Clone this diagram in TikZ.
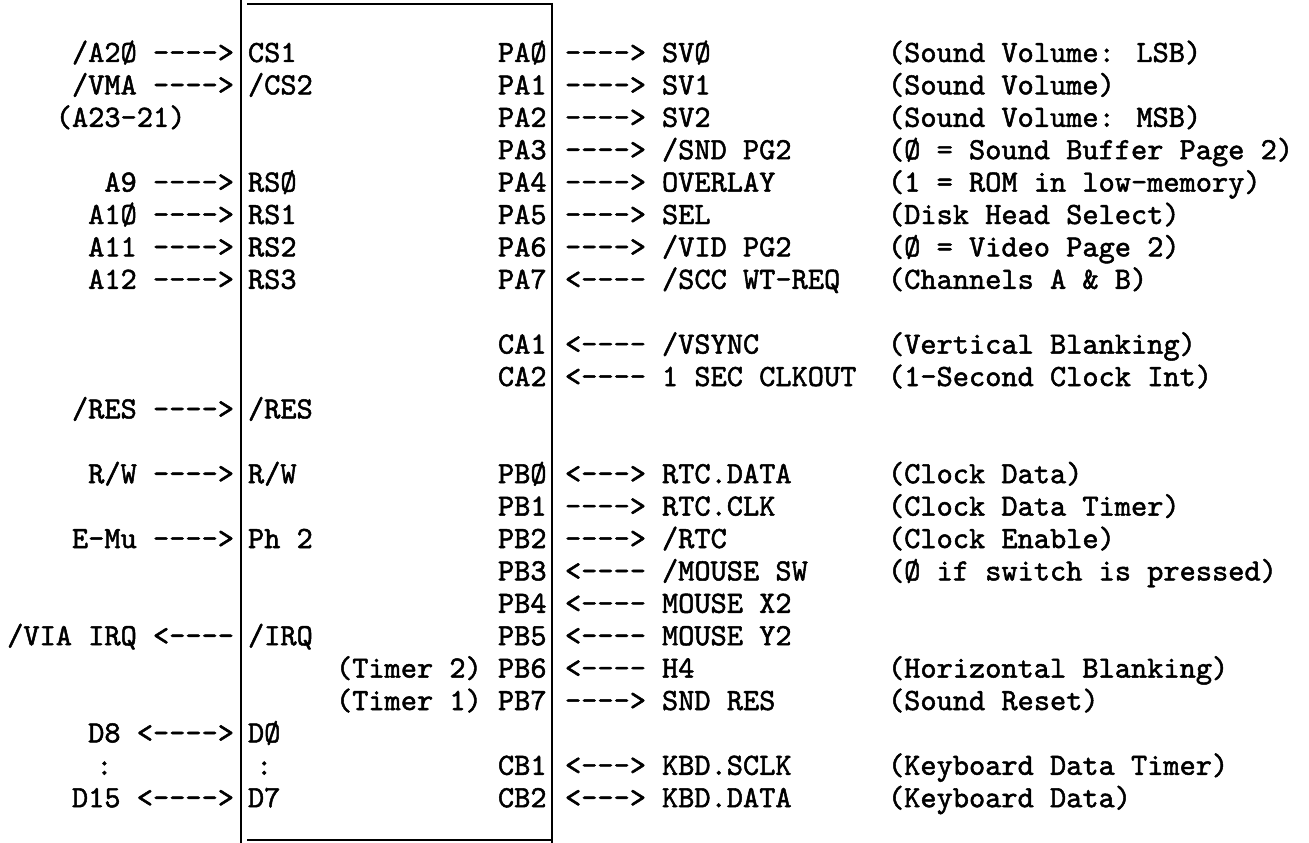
\documentclass[tikz,border=0pt]{standalone}
\usepackage{fontspec}
\newfontfamily\twf{lmmono10-regular.otf}[FakeBold=1.6]
\newcommand\tw{\twf\fontsize{30.86pt}{32pt}\selectfont}
\begin{document}
\begin{tikzpicture}[x=1pt,y=-1pt,
  t/.style={anchor=base west,inner sep=0pt,outer sep=0pt,font=\tw},
  conn/.style={t},
  boxline/.style={line width=2.4pt,line cap=butt},
  rule/.style={line width=2pt,line cap=butt}]
\useasboundingbox (0,0) rectangle (1309,843);
% box
\coordinate (tl) at (241,0);
\coordinate (bl) at (241,843);
\coordinate (tr) at (552,3);
\coordinate (br) at (552,843);
\coordinate (ttl) at (247,4);
\coordinate (ttr) at (551,4);
\coordinate (bbl) at (247,840);
\coordinate (bbr) at (551,840);
\draw[boxline] (tl) -- (bl);
\draw[boxline] (tr) -- (br);
\draw[rule] (ttl) -- (ttr);
\draw[rule] (bbl) -- (bbr);
% left side
\node[t] (l0) at (72,{62+32.4*0}) {/A2Ø};
\node[conn] (la0) at (153,{62+32.4*0}) {---->};
\node[t] (l1) at (72,{62+32.4*1}) {/VMA};
\node[conn] (la1) at (153,{62+32.4*1}) {---->};
\node[t] (l2) at (55.8,{62+32.4*2}) {(A23-21)};
\node[t] (l4) at (104.4,{62+32.4*4}) {A9};
\node[conn] (la4) at (153,{62+32.4*4}) {---->};
\node[t] (l5) at (88.2,{62+32.4*5}) {A1Ø};
\node[conn] (la5) at (153,{62+32.4*5}) {---->};
\node[t] (l6) at (88.2,{62+32.4*6}) {A11};
\node[conn] (la6) at (153,{62+32.4*6}) {---->};
\node[t] (l7) at (88.2,{62+32.4*7}) {A12};
\node[conn] (la7) at (153,{62+32.4*7}) {---->};
\node[t] (l11) at (72,{62+32.4*11}) {/RES};
\node[conn] (la11) at (153,{62+32.4*11}) {---->};
\node[t] (l13) at (88.2,{62+32.4*13}) {R/W};
\node[conn] (la13) at (153,{62+32.4*13}) {---->};
\node[t] (l15) at (72,{62+32.4*15}) {E-Mu};
\node[conn] (la15) at (153,{62+32.4*15}) {---->};
\node[t] (l18) at (7.2,{62+32.4*18}) {/VIA IRQ};
\node[conn] (la18) at (153,{62+32.4*18}) {<----};
\node[t] (l21) at (88.2,{62+32.4*21}) {D8};
\node[conn] (la21) at (136.8,{62+32.4*21}) {<---->};
\node[t] (l22) at (96.3,{62+32.4*22}) {:};
\node[t] (l23) at (72,{62+32.4*23}) {D15};
\node[conn] (la23) at (136.8,{62+32.4*23}) {<---->};
% inside box, left pins
\node[t] (i0) at (248,{62+32.4*0}) {CS1};
\node[t] (i1) at (248,{62+32.4*1}) {/CS2};
\node[t] (i4) at (248,{62+32.4*4}) {RSØ};
\node[t] (i5) at (248,{62+32.4*5}) {RS1};
\node[t] (i6) at (248,{62+32.4*6}) {RS2};
\node[t] (i7) at (248,{62+32.4*7}) {RS3};
\node[t] (i11) at (248,{62+32.4*11}) {/RES};
\node[t] (i13) at (248,{62+32.4*13}) {R/W};
\node[t] (i15) at (248,{62+32.4*15}) {Ph 2};
\node[t] (i18) at (248,{62+32.4*18}) {/IRQ};
\node[t] (i21) at (248,{62+32.4*21}) {DØ};
\node[t] (i22) at (256.1,{62+32.4*22}) {:};
\node[t] (i23) at (248,{62+32.4*23}) {D7};
\node[t] (tm2) at (336,{62+32.4*19}) {(Timer 2)};
\node[t] (tm1) at (336,{62+32.4*20}) {(Timer 1)};
% inside box, right pins
\foreach \k/\p in {0/PAØ,1/PA1,2/PA2,3/PA3,4/PA4,5/PA5,6/PA6,7/PA7,9/CA1,10/CA2,
  13/PBØ,14/PB1,15/PB2,16/PB3,17/PB4,18/PB5,19/PB6,20/PB7,22/CB1,23/CB2}
  \node[t] (p\k) at (498,{62+32.4*\k}) {\p};
% right arrows
\foreach \k/\a in {0/---->,1/---->,2/---->,3/---->,4/---->,5/---->,6/---->,7/<----,
  9/<----,10/<----,13/<--->,14/---->,15/---->,16/<----,17/<----,18/<----,19/<----,
  20/---->,22/<--->,23/<--->}
  \node[conn] (ra\k) at (565,{62+32.4*\k}) {\a};
% signal names
\foreach \k/\n in {0/SVØ,1/SV1,2/SV2,3/{/SND PG2},4/OVERLAY,5/SEL,6/{/VID PG2},
  7/{/SCC WT-REQ},9/{/VSYNC},10/{1 SEC CLKOUT},13/RTC.DATA,14/RTC.CLK,15/{/RTC},
  16/{/MOUSE SW},17/{MOUSE X2},18/{MOUSE Y2},19/H4,20/{SND RES},22/KBD.SCLK,23/KBD.DATA}
  \node[t] (n\k) at (662,{62+32.4*\k}) {\n};
% descriptions
\foreach \k/\d in {0/{(Sound Volume: LSB)},1/{(Sound Volume)},2/{(Sound Volume: MSB)},
  3/{(Ø = Sound Buffer Page 2)},4/{(1 = ROM in low-memory)},5/{(Disk Head Select)},
  6/{(Ø = Video Page 2)},7/{(Channels A \& B)},9/{(Vertical Blanking)},
  10/{(1-Second Clock Int)},13/{(Clock Data)},14/{(Clock Data Timer)},
  15/{(Clock Enable)},16/{(Ø if switch is pressed)},19/{(Horizontal Blanking)},
  20/{(Sound Reset)},22/{(Keyboard Data Timer)},23/{(Keyboard Data)}}
  \node[t] (d\k) at (888,{62+32.4*\k}) {\d};
\end{tikzpicture}
\end{document}
